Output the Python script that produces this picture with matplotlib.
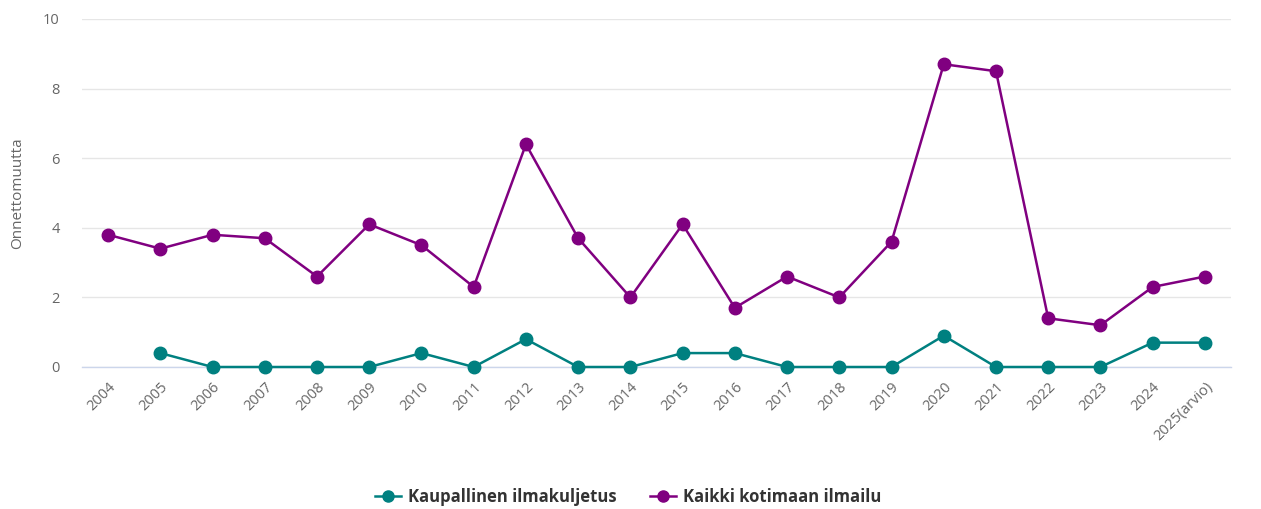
import numpy as np
import matplotlib
matplotlib.use("Agg")
import matplotlib.pyplot as plt
from matplotlib.lines import Line2D

plt.rcParams['font.family'] = ['Open Sans', 'DejaVu Sans']

# data
years = ['2004', '2005', '2006', '2007', '2008', '2009', '2010', '2011', '2012',
         '2013', '2014', '2015', '2016', '2017', '2018', '2019', '2020', '2021',
         '2022', '2023', '2024', '2025(arvio)']
kaupallinen = [None, 0.4, 0, 0, 0, 0, 0.4, 0, 0.8, 0, 0, 0.4, 0.4, 0, 0, 0,
               0.9, 0, 0, 0, 0.7, 0.7]
kaikki = [3.8, 3.4, 3.8, 3.7, 2.6, 4.1, 3.5, 2.3, 6.4, 3.7, 2.0, 4.1, 1.7, 2.6,
          2.0, 3.6, 8.7, 8.5, 1.4, 1.2, 2.3, 2.6]
series_names = ['Kaupallinen ilmakuljetus', 'Kaikki kotimaan ilmailu']
series_colors = ['#008080', '#800080']

W, H = 1261, 509
fig = plt.figure(figsize=(W / 100, H / 100), dpi=100)
ax = fig.add_axes([82 / W, 1 - 367 / H, (1231 - 82) / W, (367 - 19) / H])

x = np.arange(len(years))
handles = []
for vals, name, col in zip([kaupallinen, kaikki], series_names, series_colors):
    v = np.array([np.nan if a is None else a for a in vals], dtype=float)
    ax.plot(x, v, color=col, lw=1.8, marker='o', ms=9, zorder=3,
            clip_on=False)
    handles.append(Line2D([], [], color=col, lw=1.8, marker='o', ms=8))

ax.set_xlim(-0.5, len(years) - 0.5)
ax.set_ylim(0, 10)
ax.set_yticks([0, 2, 4, 6, 8, 10])
ax.grid(axis='y', color='#e6e6e6', lw=1)
ax.set_axisbelow(True)
for s in ['top', 'right', 'left']:
    ax.spines[s].set_visible(False)
ax.spines['bottom'].set_color('#ccd6eb')
ax.spines['bottom'].set_linewidth(1)

ax.set_xticks(x)
ax.set_xticklabels(years, rotation=45, ha='right', va='top',
                   rotation_mode='anchor', fontsize=10.5, color='#666666')
ax.tick_params(axis='x', length=0, pad=9)
ax.tick_params(axis='y', length=0, pad=16, labelsize=10.5, labelcolor='#666666')
ax.set_ylabel('Onnettomuutta', fontsize=11, color='#666666', labelpad=13)

fig.legend(handles, series_names, loc='center', bbox_to_anchor=(628 / W, 1 - 497 / H),
           ncol=2, frameon=False, handlelength=1.6,
           handletextpad=0.4, columnspacing=2.0,
           prop={'weight': 'bold', 'size': 12})
for t in fig.legends[0].get_texts():
    t.set_color('#333333')

fig.savefig('out.png', dpi=100)
